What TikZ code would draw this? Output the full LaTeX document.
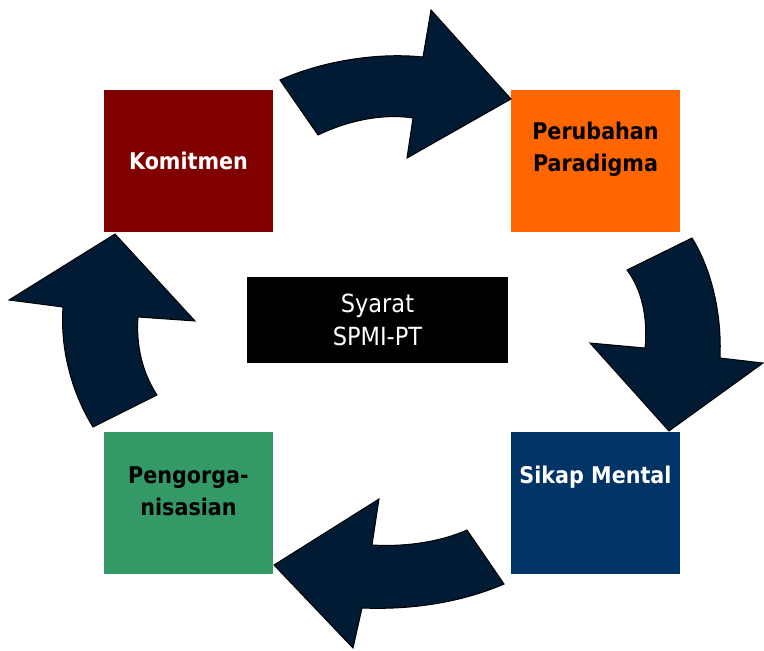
\documentclass[tikz,border=0pt]{standalone}
\usepackage{fontspec}
\setmainfont{DejaVu Sans Condensed}
\definecolor{navy}{RGB}{0,27,51}
\definecolor{komc}{RGB}{128,0,0}
\definecolor{peruc}{RGB}{255,102,0}
\definecolor{sikc}{RGB}{0,51,102}
\definecolor{penc}{RGB}{51,153,102}
\tikzset{
  box/.style={draw=none,minimum width=169pt,minimum height=142pt,inner sep=0pt},
  lbl/.style={align=center,inner sep=0pt,font=\fontsize{23}{32}\selectfont\bfseries},
  cyc/.style={fill=navy,draw=black,line width=1pt,line join=miter}
}
\begin{document}
\begin{tikzpicture}[x=1pt,y=-1pt]
\useasboundingbox (0,0) rectangle (764,651);
\node[box,fill=komc] (kom) at (188.5,161) {};
\node[box,fill=peruc] (per) at (595.5,161) {};
\node[box,fill=sikc] (sik) at (595.5,503) {};
\node[box,fill=penc] (pen) at (188.5,503) {};
\node[lbl,text=white] (komt) at ([yshift=0pt]kom.center) {Komitmen};
\node[lbl,text=black] (pert) at ([yshift=12pt]per.center) {Perubahan\\Paradigma};
\node[lbl,text=white] (sikt) at ([yshift=26pt]sik.center) {Sikap Mental};
\node[lbl,text=black] (pent) at ([yshift=12pt]pen.center) {Pengorga-\\nisasian};
\node[fill=black,text=white,minimum width=261pt,minimum height=86pt,inner sep=0pt,align=center,font=\fontsize{25}{33}\selectfont] (ctr) at (377.5,320) {Syarat\\SPMI-PT};
% top arrow
\draw[cyc] (280,80) .. controls (320,62) and (375,52) .. (423,57) -- (431,10) -- (511,99) -- (407,158) -- (413,118) .. controls (380,113) and (345,122) .. (318,135) -- cycle;
% right arrow
\draw[cyc] (627,270) -- (692,238) .. controls (712,270) and (722,315) .. (720,358) -- (763,363) -- (669,431) -- (590,343) -- (645,348) .. controls (648,318) and (642,290) .. (627,270) -- cycle;
% bottom arrow
\draw[cyc] (467,530) -- (504,584) .. controls (460,603) and (410,610) .. (362,608) -- (353,648) -- (274,565) -- (379,499) -- (372,545) .. controls (405,547) and (440,542) .. (467,530) -- cycle;
% left arrow
\draw[cyc] (93,427) -- (157,395) .. controls (142,372) and (136,345) .. (138,317) -- (195,321) -- (115,234) -- (9,300) -- (63,307) .. controls (60,350) and (72,393) .. (93,427) -- cycle;
\end{tikzpicture}
\end{document}
